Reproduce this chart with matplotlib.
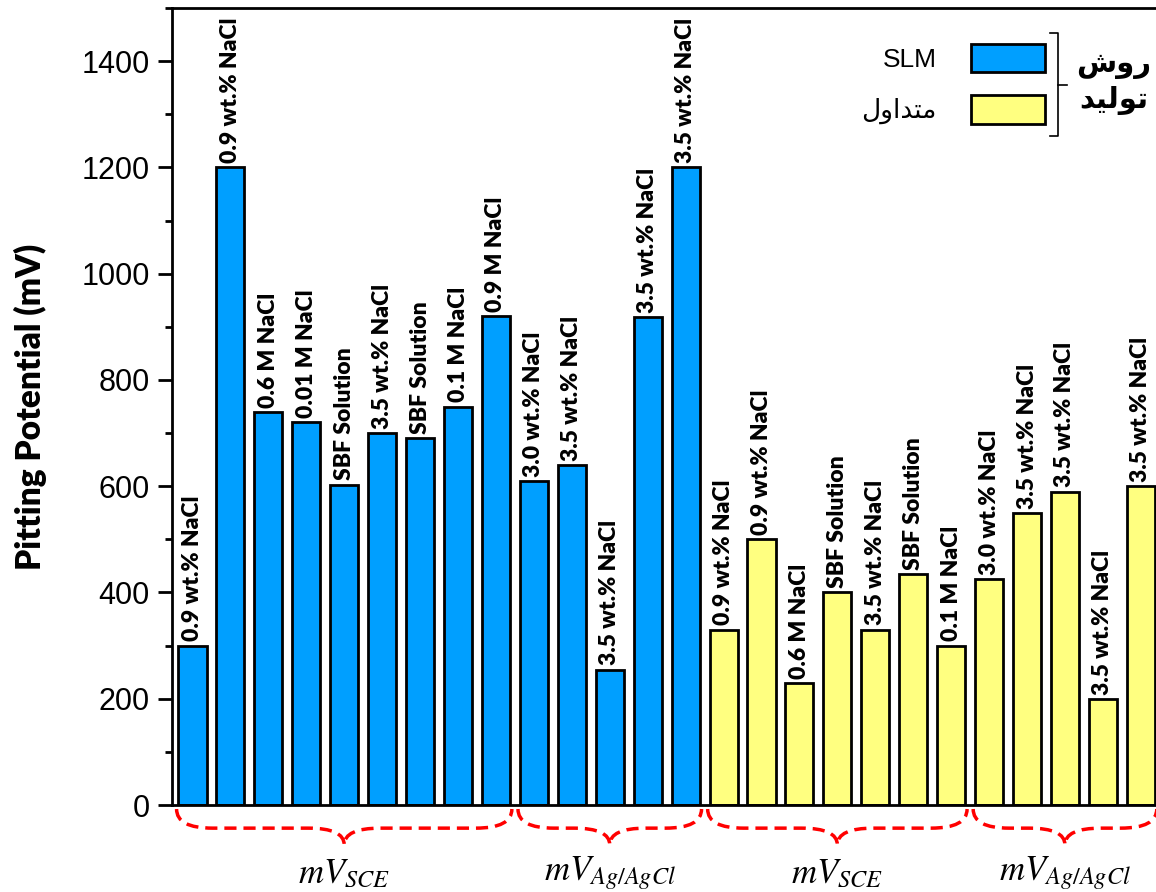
import numpy as np
import matplotlib.pyplot as plt
from matplotlib.path import Path
from matplotlib.patches import PathPatch
from matplotlib.lines import Line2D

# Data
slm_solutions = ["0.9 wt.% NaCl", "0.9 wt.% NaCl", "0.6 M NaCl", "0.01 M NaCl", "SBF Solution",
                 "3.5 wt.% NaCl", "SBF Solution", "0.1 M NaCl", "0.9 M NaCl",
                 "3.0 wt.% NaCl", "3.5 wt.% NaCl", "3.5 wt.% NaCl", "3.5 wt.% NaCl", "3.5 wt.% NaCl"]
slm_values = [300, 1200, 740, 720, 603, 700, 690, 750, 920,
              610, 640, 255, 918, 1200]
conv_solutions = ["0.9 wt.% NaCl", "0.9 wt.% NaCl", "0.6 M NaCl", "SBF Solution", "3.5 wt.% NaCl",
                  "SBF Solution", "0.1 M NaCl",
                  "3.0 wt.% NaCl", "3.5 wt.% NaCl", "3.5 wt.% NaCl", "3.5 wt.% NaCl", "3.5 wt.% NaCl"]
conv_values = [330, 500, 230, 400, 330, 435, 300,
               425, 550, 590, 200, 600]
# reference electrode groups: (label, number of bars)
groups = [("$mV_{SCE}$", 9), ("$mV_{Ag/AgCl}$", 5), ("$mV_{SCE}$", 7), ("$mV_{Ag/AgCl}$", 5)]

# "SLM", "متداول" (conventional), "روش تولید" (production method) - presentation forms, visual order
legend_labels = ["SLM", "\uFEDD\uFEED\uFE8D\uFEAA\uFE98\uFEE3"]
method_title = "\uFEB5\uFEED\uFEAD\n\uFEAA\uFEF4\uFEDF\uFEEE\uFE97"

blue = "#009FFF"
yellow = "#FFFF80"

plt.rcParams['mathtext.fontset'] = 'stix'

fig = plt.figure(figsize=(11.56, 8.92), dpi=100)
ax = fig.add_axes([0.1488, 0.0975, 0.8512, 0.8935])

x_slm = np.arange(len(slm_values))
x_conv = np.arange(len(conv_values)) + len(slm_values)
bw = 0.74
b1 = ax.bar(x_slm, slm_values, width=bw, color=blue, edgecolor="black", linewidth=2)
b2 = ax.bar(x_conv, conv_values, width=bw, color=yellow, edgecolor="black", linewidth=2)

for xs, vals, labs in [(x_slm, slm_values, slm_solutions), (x_conv, conv_values, conv_solutions)]:
    for x, v, s in zip(xs, vals, labs):
        ax.text(x, v + 8, s, rotation=90, ha="center", va="bottom",
                family="Lato", fontweight="heavy", fontsize=16.5)

ax.set_xlim(-0.54, 25.4)
ax.set_ylim(0, 1500)
ax.set_yticks(np.arange(0, 1401, 200))
ax.set_yticks(np.arange(100, 1501, 200), minor=True)
ax.set_xticks([])
ax.tick_params(axis="y", which="major", length=10, width=2, direction="out",
               labelsize=22, pad=6)
ax.tick_params(axis="y", which="minor", length=5, width=2, direction="out")
for lab in ax.get_yticklabels():
    lab.set_family("Liberation Sans")
ax.spines["right"].set_visible(False)
for s in ["left", "bottom", "top"]:
    ax.spines[s].set_linewidth(2)

ax.set_ylabel("Pitting Potential (mV)", family="Lato", fontweight="heavy", fontsize=24, labelpad=25)

# curly braces under each electrode group
trans = ax.get_xaxis_transform()
y_top, y_mid, y_tip = -0.005, -0.029, -0.05
start = 0
for label, n in groups:
    x0 = start - 0.42
    x1 = start + n - 1 + 0.42
    xc = (x0 + x1) / 2
    d = 0.95
    verts = [(x0, y_top), (x0, y_mid), (x0 + d, y_mid),
             (xc - d, y_mid), (xc, y_mid), (xc, y_tip),
             (xc, y_mid), (xc + d, y_mid),
             (x1 - d, y_mid), (x1, y_mid), (x1, y_top)]
    codes = [Path.MOVETO, Path.CURVE3, Path.CURVE3,
             Path.LINETO, Path.CURVE3, Path.CURVE3,
             Path.CURVE3, Path.CURVE3,
             Path.LINETO, Path.CURVE3, Path.CURVE3]
    ax.add_patch(PathPatch(Path(verts, codes), transform=trans, fill=False,
                           edgecolor="red", linestyle=(0, (3.5, 2)), linewidth=2.5, clip_on=False))
    ax.text(xc, -0.085, label, transform=trans, ha="center", va="center", fontsize=25)
    start += n

# legend with labels on the left of the patches
leg = ax.legend([b1, b2], legend_labels, loc="upper right", bbox_to_anchor=(0.911, 0.985),
                frameon=False, markerfirst=False, handlelength=2.8, handleheight=1.3,
                handletextpad=1.3, labelspacing=0.85,
                prop={"family": ["Liberation Sans", "DejaVu Sans"], "size": 19})

# bracket and "production method" title
bx = 0.9
ax.add_line(Line2D([bx - 0.008, bx, bx, bx - 0.008], [0.969, 0.969, 0.84, 0.84],
                   transform=ax.transAxes, color="black", linewidth=1.2, clip_on=False))
ax.add_line(Line2D([bx, bx + 0.01], [0.904, 0.904], transform=ax.transAxes,
                   color="black", linewidth=1.2, clip_on=False))
ax.text(0.957, 0.906, method_title, transform=ax.transAxes, ha="center", va="center",
        family="DejaVu Sans", fontweight="bold", fontsize=21, linespacing=1.3)

fig.savefig("out.png", dpi=100, facecolor="white")
